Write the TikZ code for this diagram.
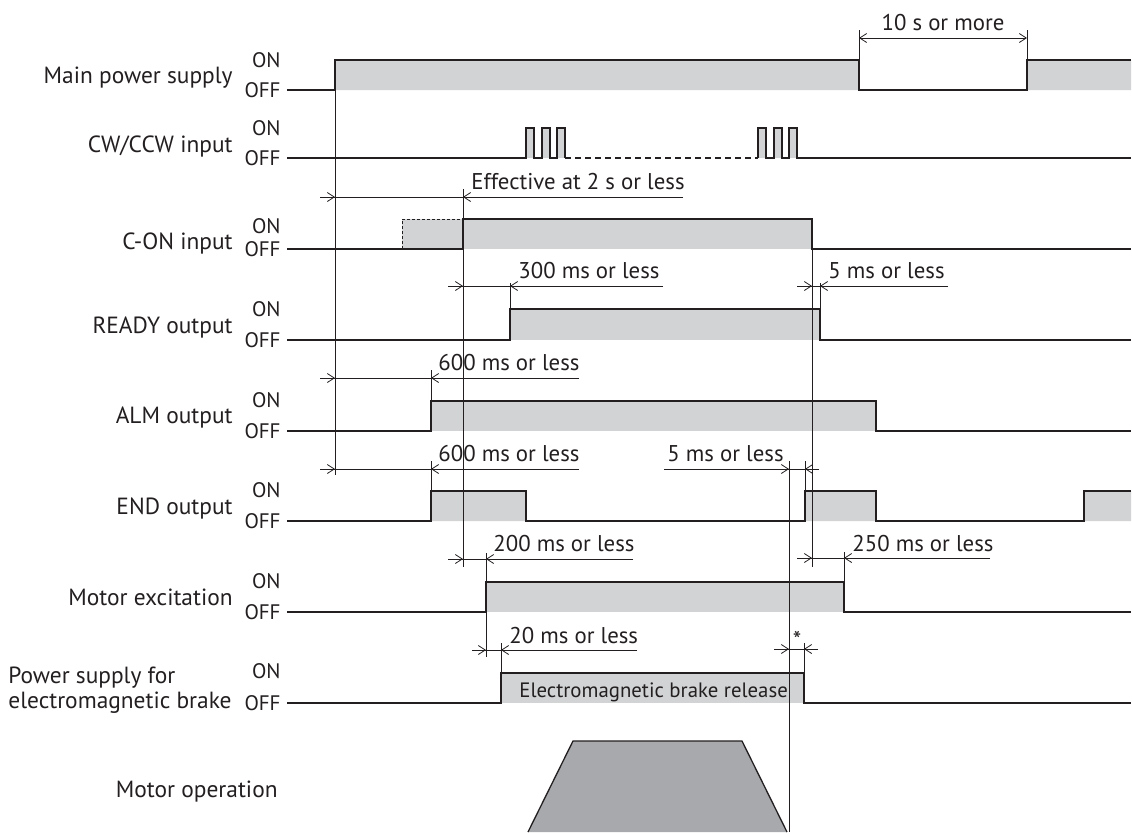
\documentclass[tikz,border=0pt]{standalone}
\usepackage{fontspec}
\setmainfont{PT Sans}
\usetikzlibrary{arrows.meta}
\definecolor{ink}{HTML}{231F20}
\definecolor{onfill}{HTML}{D1D3D4}
\definecolor{runfill}{HTML}{A7A9AC}
\tikzset{
  sig/.style={ink,line width=0.65pt},
  ext/.style={ink,line width=0.4pt},
  dim/.style={ink,line width=0.4pt,-{Straight Barb[length=3.5pt,width=4.5pt]}},
  dims/.style={ink,line width=0.4pt,{Straight Barb[length=3.5pt,width=4.5pt]}-{Straight Barb[length=3.5pt,width=4.5pt]}},
  lbl/.style={ink,font=\fontsize{11.7}{12.5}\selectfont,inner sep=0pt},
  lvl/.style={ink,font=\fontsize{10.5}{12}\selectfont,inner sep=0pt,anchor=east},
  note/.style={ink,font=\fontsize{11.4}{14}\selectfont,inner sep=0pt,anchor=base west}
}
\begin{document}
\begin{tikzpicture}[x=0.5pt,y=-0.5pt]
\useasboundingbox (0,0) rectangle (1132,832);

\node[lbl,anchor=base east] (main) at (233,83) {Main power supply};
\node[lbl,anchor=base east] (cw) at (233,152) {CW/CCW input};
\node[lbl,anchor=base east] (con) at (233,249) {C-ON input};
\node[lbl,anchor=base east] (ready) at (233,333) {READY output};
\node[lbl,anchor=base east] (alm) at (233,423) {ALM output};
\node[lbl,anchor=base east] (end) at (233,514) {END output};
\node[lbl,anchor=base east] (exc) at (233,605) {Motor excitation};
\node[lbl,anchor=west,align=left] (brake) at (8,690) {Power supply for\\electromagnetic brake};
\node[lbl,anchor=base east] (run) at (278,797) {Motor operation};
\foreach \on/\off/\n in {60/90/main,128/158/cw,226/249/con,309/340/ready,400/431/alm,490/521/end,581/612/exc,671/703/brake} {
  \node[lvl] (on-\n) at (281,\on) {ON};
  \node[lvl] (off-\n) at (281,\off) {OFF};
}

\fill[onfill] (335,60) rectangle (859,90) (1027,60) rectangle (1131,90);
\foreach \x in {526,542,557,758,774,789} \fill[onfill] (\x,128) rectangle ++(8,30);
\fill[onfill] (402,219) rectangle (812,249);
\fill[onfill] (510,309) rectangle (820,340);
\fill[onfill] (431,401) rectangle (876,431);
\fill[onfill] (431,491) rectangle (526,521) (805,491) rectangle (876,521) (1084,491) rectangle (1131,521);
\fill[onfill] (486,582) rectangle (844,612);
\fill[onfill] (501,673) rectangle (804,703);
\filldraw[sig,fill=runfill] (528,832) -- (573,741) -- (742,741) -- (787,832);

\draw[sig] (287,90) -- (335,90) -- (335,60) -- (859,60) -- (859,90) -- (1027,90) -- (1027,60) -- (1131,60);
\draw[sig] (287,158) \foreach \x in {526,542,557} {-- (\x,158) -- (\x,128) -- (\x+8,128) -- (\x+8,158)};
\draw[sig,dash pattern=on 3pt off 2pt] (565,158) -- (758,158);
\draw[sig] (758,158) \foreach \x in {758,774,789} {-- (\x,158) -- (\x,128) -- (\x+8,128) -- (\x+8,158)} -- (1131,158);
\draw[sig,line width=0.5pt,dash pattern=on 1.5pt off 1pt] (402,249) -- (402,219) -- (463,219);
\draw[sig] (287,249) -- (463,249) -- (463,219) -- (812,219) -- (812,249) -- (1131,249);
\draw[sig] (287,340) -- (510,340) -- (510,309) -- (820,309) -- (820,340) -- (1131,340);
\draw[sig] (287,431) -- (431,431) -- (431,401) -- (876,401) -- (876,431) -- (1131,431);
\draw[sig] (287,521) -- (431,521) -- (431,491) -- (526,491) -- (526,521) -- (805,521) -- (805,491) -- (876,491) -- (876,521) -- (1084,521) -- (1084,491) -- (1131,491);
\draw[sig] (287,612) -- (486,612) -- (486,582) -- (844,582) -- (844,612) -- (1131,612);
\draw[sig] (287,703) -- (501,703) -- (501,673) -- (804,673) -- (804,703) -- (1131,703);

\foreach \x/\ya/\yb in {335/60/475,463/189/567,510/283/309,820/283/309,431/370/401,431/461/491,812/219/567,789/461/832,805/461/491,486/553/582,486/612/657,844/552/582,501/643/673,804/643/673,859/30/60,1027/30/60}
  \draw[ext] (\x,\ya) -- (\x,\yb);

\draw[dims] (859,38) -- (1027,38);
\foreach \y/\a/\p/\q/\b in {197/320/335/463/683,286/448/463/510/663,286/797/812/820/948,378/320/335/431/579,469/320/335/431/579,469/664/789/805/819,559/448/463/486/633,558/797/812/844/990,650/472/486/501/637,649/774/789/804/818} {
  \draw[ext] (\a,\y) -- (\b,\y);
  \draw[dim] (\a,\y) -- (\p,\y);
  \draw[dim] (\b,\y) -- (\q,\y);
}

\node[note,anchor=base] (t-off) at (943,30) {10 s or more};
\node[note] (t-eff) at (471,189) {Effective at 2 s or less};
\node[note] (t-ready) at (518,278) {300 ms or less};
\node[note] (t-rdoff) at (828,278) {5 ms or less};
\node[note] (t-alm) at (438,370) {600 ms or less};
\node[note] (t-end) at (438,461) {600 ms or less};
\node[note] (t-endoff) at (667,461) {5 ms or less};
\node[note] (t-exc) at (493,551) {200 ms or less};
\node[note] (t-excoff) at (852,551) {250 ms or less};
\node[note] (t-brake) at (509,643) {20 ms or less};
\node[ink,font=\fontsize{12}{12}\selectfont,inner sep=0pt] (t-star) at (797,640) {*};
\node[note,font=\fontsize{10.4}{12}\selectfont] (t-release) at (519,697) {Electromagnetic brake release};
\end{tikzpicture}
\end{document}
